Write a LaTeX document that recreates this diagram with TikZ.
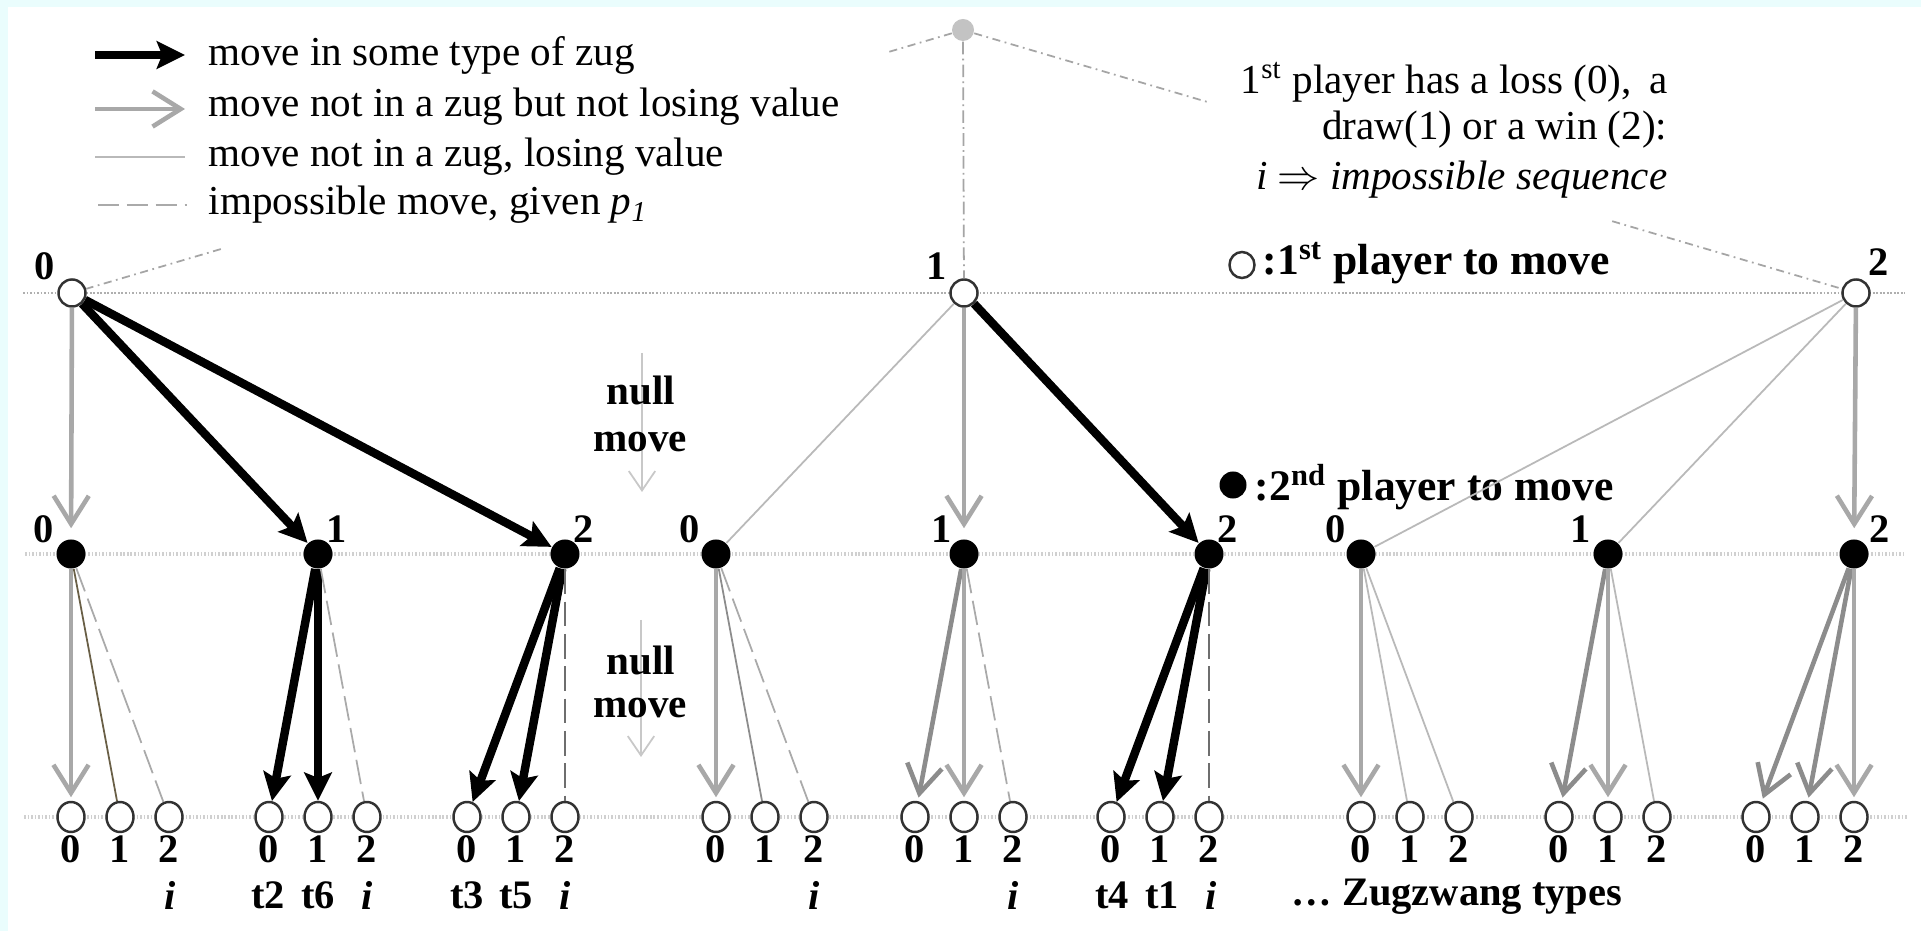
\documentclass[tikz,border=0pt]{standalone}
\usepackage{fontspec}
\setmainfont{Liberation Serif}
\usetikzlibrary{arrows.meta,shapes.geometric,calc}
\definecolor{cyanbg}{RGB}{234,253,253}
\definecolor{gkeep}{RGB}{168,168,168}
\definecolor{gkeepd}{RGB}{140,140,140}
\definecolor{glose}{RGB}{185,185,185}
\definecolor{golive}{RGB}{105,95,70}
\definecolor{gimp}{RGB}{170,170,170}
\definecolor{gimpd}{RGB}{110,110,110}
\definecolor{gdash}{RGB}{165,165,165}
\definecolor{ghorA}{RGB}{175,175,175}
\definecolor{ghorB}{RGB}{208,208,208}
\definecolor{gtop}{RGB}{195,195,195}
\definecolor{gnull}{RGB}{200,200,200}
\definecolor{gring}{RGB}{50,50,50}
\tikzset{
  lvA/.style={draw=gring,line width=0.7pt,circle,minimum size=0.27cm,inner sep=0pt,fill=white},
  lvB/.style={fill=black,circle,minimum size=0.29cm,inner sep=0pt},
  lvC/.style={draw=gring,line width=0.7pt,ellipse,minimum width=0.27cm,minimum height=0.30cm,inner sep=0pt,fill=white},
  zug/.style={draw=black,line width=2.4pt,-{Stealth[length=8pt,width=7.8pt,inset=1.5pt]}},
  keep/.style={draw=gkeep,line width=1.3pt,-{Straight Barb[length=8pt,width=10pt]},shorten >=1pt},
  keepd/.style={keep,draw=gkeepd},
  lose/.style={draw=glose,line width=0.5pt},
  imposs/.style={draw=gimp,line width=0.5pt,dash pattern=on 7pt off 2.2pt},
  impossd/.style={imposs,draw=gimpd},
  dashdot/.style={draw=gdash,line width=0.5pt,dash pattern=on 2.3pt off 1.3pt on 0.5pt off 1.3pt},
  dashdotv/.style={draw=gdash,line width=0.5pt,dash pattern=on 3.6pt off 1.2pt on 0.5pt off 1.2pt},
  horA/.style={draw=ghorA,line width=0.55pt,dash pattern=on 0.5pt off 0.5pt},
  horB/.style={draw=ghorB,line width=1.1pt,dash pattern=on 0.45pt off 0.55pt},
  lab/.style={font=\fontsize{11.5pt}{12pt}\selectfont\bfseries,inner sep=0pt},
  sub/.style={font=\fontsize{11.5pt}{12pt}\selectfont\bfseries,inner sep=0pt},
  txt/.style={inner sep=0pt},
  keytxt/.style={inner sep=0pt,anchor=west,font=\fontsize{12.4pt}{14pt}\selectfont\bfseries},
  nullarrow/.style={draw=gnull,line width=0.5pt,-{Straight Barb[length=5.5pt,width=7.5pt]}},
}
\begin{document}
\begin{tikzpicture}[x=0.01cm,y=-0.01cm,font=\fontsize{11.7pt}{14pt}\selectfont]
\useasboundingbox (0,0) rectangle (1921,931);
\fill[cyanbg] (0,0) rectangle (1921,931);
\fill[white] (8,7) rectangle (1921,931);

% horizontal dotted guide lines
\coordinate (hA1) at (23,293); \coordinate (hA2) at (1905,293);
\coordinate (hB1) at (25,554); \coordinate (hB2) at (1905,554);
\coordinate (hC1) at (24,817); \coordinate (hC2) at (1907,817);
\draw[horA] (hA1) -- (hA2);
\draw[horB] (hB1) -- (hB2);
\draw[horB] (hC1) -- (hC2);

% legend
\coordinate (l1a) at (95,55);  \coordinate (l1b) at (185,55);
\coordinate (l2a) at (95,109); \coordinate (l2b) at (185,109);
\coordinate (l3a) at (95,157); \coordinate (l3b) at (185,157);
\coordinate (l4a) at (98,205); \coordinate (l4b) at (187,205);
\draw[zug] (l1a) -- (l1b);
\draw[keep,shorten >=0pt] (l2a) -- (l2b);
\draw[lose,line width=0.8pt] (l3a) -- (l3b);
\draw[imposs,line width=0.8pt,dash pattern=on 6pt off 2.2pt] (l4a) -- (l4b);
\node[txt,anchor=west] (t1) at (208,55) {move in some type of zug};
\node[txt,anchor=west] (t2) at (208,107) {move not in a zug but not losing value};
\node[txt,anchor=west] (t3) at (208,157) {move not in a zug, losing value};
\node[txt,anchor=west] (t4) at (208,205) {impossible move, given \textit{p}\textsubscript{\textit{1}}};

% right explanatory text
\node[txt,anchor=east] (r1) at (1668,82) {1\textsuperscript{st} player has a loss (0), \,a};
\node[txt,anchor=east] (r2) at (1668,130) {draw(1) or a win (2):};
\node[txt,anchor=east] (r3) at (1668,180) {\textit{i} $\Rightarrow$ \textit{impossible sequence}};

% player legends
\node[lvC,minimum width=0.25cm,minimum height=0.26cm] (k1) at (1242,265) {};
\node[keytxt] (k1t) at (1262,263) {:1\textsuperscript{st} player to move};
\node[lvB,minimum size=0.27cm] (k2) at (1233,485) {};
\node[keytxt] (k2t) at (1254,487) {:2\textsuperscript{nd} player to move};

% null move annotations
\coordinate (n1a) at (642,353); \coordinate (n1b) at (642,492);
\coordinate (n2a) at (641,620); \coordinate (n2b) at (641,757);
\draw[nullarrow] (n1a) -- (n1b);
\draw[nullarrow] (n2a) -- (n2b);
\node[lab,font=\fontsize{11.7pt}{14pt}\selectfont\bfseries] (nm1a) at (641,390) {null};
\node[lab,font=\fontsize{11.7pt}{14pt}\selectfont\bfseries] (nm1b) at (640,442) {move};
\node[lab,font=\fontsize{11.7pt}{14pt}\selectfont\bfseries] (nm2a) at (641,660) {null};
\node[lab,font=\fontsize{11.7pt}{14pt}\selectfont\bfseries] (nm2b) at (640,708) {move};

% top node
\node[circle,fill=gtop,minimum size=0.22cm,inner sep=0pt] (T) at (963,30) {};

% level 1
\node[lvA] (A0) at (72,293) {};
\node[lvA] (A1) at (964,293) {};
\node[lvA] (A2) at (1856,293) {};
\node[lab] (a0l) at (45,266) {0};
\node[lab] (a1l) at (937,266) {1};
\node[lab] (a2l) at (1879,262) {2};

% dash-dot lines from the top
\draw[dashdotv] (T) -- (A1);
\draw[dashdot] (T) -- ($(T)!0.087!(A0)$);
\draw[dashdot] ($(T)!0.833!(A0)$) -- (A0);
\draw[dashdot] (T) -- ($(T)!0.275!(A2)$);
\draw[dashdot] ($(T)!0.727!(A2)$) -- (A2);

% level 2
\foreach \n/\x in {0/71,1/318,2/565,3/716,4/964,5/1209,6/1361,7/1608,8/1854}
  \node[lvB] (B\n) at (\x,554) {};
\foreach \n/\x/\v in {0/44/0,1/337/1,2/584/2,3/690/0,4/942/1,5/1228/2,6/1336/0,7/1581/1,8/1880/2}
  \node[lab] (b\n l) at (\x,529) {\v};

% level 3
\foreach \n/\x/\v in {0/71/0,1/318/1,2/565/2,3/716/0,4/964/1,5/1209/2,6/1361/0,7/1608/1,8/1854/2}{
  \foreach \k in {0,1,2}{
    \node[lvC] (C\n\k) at ({\x+49*(\k-\v)},817) {};
    \node[sub] (c\n\k l) at ({\x+49*(\k-\v)},849) {\k};
  }
}

% bottom labels
\node[sub] (s02) at (170,895) {\textit{i}};
\node[sub] (s10) at (268,895) {t2};
\node[sub] (s11) at (318,895) {t6};
\node[sub] (s12) at (367,895) {\textit{i}};
\node[sub] (s20) at (467,895) {t3};
\node[sub] (s21) at (516,895) {t5};
\node[sub] (s22) at (565,895) {\textit{i}};
\node[sub] (s32) at (814,895) {\textit{i}};
\node[sub] (s42) at (1013,895) {\textit{i}};
\node[sub] (s50) at (1112,895) {t4};
\node[sub] (s51) at (1162,895) {t1};
\node[sub] (s52) at (1211,895) {\textit{i}};
\node[sub,anchor=west] (zt) at (1291,897) {\dots\ Zugzwang types};

% level 1 -> level 2
\draw[keep,shorten >=3pt] (A0) -- (B0);
\draw[zug] (A0) -- (B1);
\draw[zug] (A0) -- (B2);
\draw[lose] (A1) -- (B3);
\draw[keep,shorten >=3pt] (A1) -- (B4);
\draw[zug] (A1) -- (B5);
\draw[lose] (A2) -- (B6);
\draw[lose] (A2) -- (B7);
\draw[keep,shorten >=3pt] (A2) -- (B8);

% level 2 -> level 3
\draw[keep] (B0) -- (C00);
\draw[lose,draw=golive] (B0) -- (C01);
\draw[imposs] (B0) -- (C02);
\draw[zug] (B1) -- (C10);
\draw[zug] (B1) -- (C11);
\draw[imposs] (B1) -- (C12);
\draw[zug] (B2) -- (C20);
\draw[zug] (B2) -- (C21);
\draw[impossd] (B2) -- (C22);
\draw[keep] (B3) -- (C30);
\draw[lose,draw=gkeepd] (B3) -- (C31);
\draw[imposs] (B3) -- (C32);
\draw[keepd] (B4) -- (C40);
\draw[keep] (B4) -- (C41);
\draw[imposs] (B4) -- (C42);
\draw[zug] (B5) -- (C50);
\draw[zug] (B5) -- (C51);
\draw[impossd] (B5) -- (C52);
\draw[keep] (B6) -- (C60);
\draw[lose] (B6) -- (C61);
\draw[lose] (B6) -- (C62);
\draw[keepd] (B7) -- (C70);
\draw[keep] (B7) -- (C71);
\draw[lose] (B7) -- (C72);
\draw[keepd] (B8) -- (C80);
\draw[keepd] (B8) -- (C81);
\draw[keep] (B8) -- (C82);
\end{tikzpicture}
\end{document}
